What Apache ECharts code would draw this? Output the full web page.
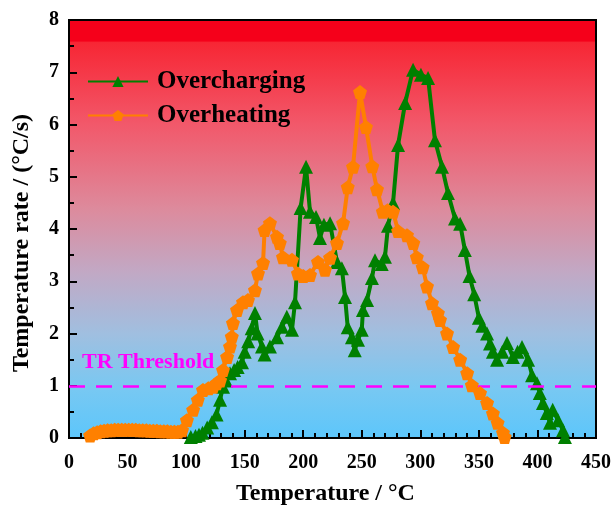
<!DOCTYPE html>
<html>
<head>
<meta charset="utf-8">
<script src="https://cdn.jsdelivr.net/npm/echarts@6/dist/echarts.min.js"></script>
<style>
  html, body { margin: 0; padding: 0; background: #fff; }
  #chart { width: 614px; height: 505px; }
</style>
</head>
<body>
<div id="chart"></div>
<script>
// 过充 Overcharging (triangles)
const chargeTemp = [104,108,111,114,118,122,126,129,131.5,134,137.5,141,144,147.7,150,153,156,158.8,161,164.8,167,171.6,177.6,181.9,186,190.4,193,197.8,202.4,205.8,210.9,214.3,217.7,222.9,228.8,233,235.7,238,241.6,244,246.8,250,251,254.5,258.7,261.3,267,269.8,272.4,276.7,281,287,293.8,300.5,306.6,312.5,318.5,323.6,329.6,334,338,342,346,350,353,357,359.5,362,365.5,370,374,379,383,386.8,392,395.4,399.6,402,404.7,408,410.7,413,417.6,421.8,423.5]
const chargeRate = [0.02,0.04,0.06,0.1,0.2,0.3,0.45,0.73,0.98,1.1,1.24,1.3,1.36,1.45,1.65,1.85,2.1,2.39,2.0,1.75,1.6,1.75,1.93,2.13,2.32,2.07,2.6,4.4,5.19,4.33,4.23,3.83,4.08,4.11,3.37,3.25,2.7,2.12,1.93,1.68,1.88,2.07,2.45,2.64,3.06,3.4,3.33,3.47,4.06,4.5,5.61,6.41,7.05,6.95,6.89,5.7,5.19,4.69,4.2,4.1,3.6,3.1,2.75,2.3,2.15,2.0,1.81,1.65,1.5,1.65,1.82,1.55,1.65,1.74,1.5,1.2,1.05,0.86,0.67,0.48,0.29,0.54,0.34,0.15,0.02]

// 过热 Overheating (pentagons)
const heatTemp = [18,21,24,27,30,33,36,39,42,45,48,51,54,57,60,63,66,69,72,75,78,81,84,87,90,93,96.5,100.7,106,110,114.4,119,123,126,129,131.5,135,137.5,139,140,143.5,148.6,152.8,158.8,161.4,165.7,167,171.6,177.6,180,182.7,190.4,195.5,200,205.8,212.6,218.6,222.9,228.8,234,238,242.5,248.5,253.6,259,263,268,272,276.7,281,288.6,294,297,302,305.7,310,315,316.8,322.8,328,334,340,344,351,357,362,366,370.6,372]
const heatRate = [0.05,0.09,0.11,0.13,0.14,0.15,0.15,0.16,0.16,0.16,0.16,0.16,0.16,0.16,0.15,0.15,0.15,0.14,0.14,0.14,0.13,0.13,0.13,0.12,0.12,0.12,0.15,0.34,0.54,0.73,0.92,0.95,0.98,1.05,1.1,1.3,1.55,1.75,1.94,2.2,2.45,2.6,2.64,2.83,3.15,3.35,3.98,4.11,3.85,3.73,3.46,3.41,3.15,3.1,3.12,3.37,3.22,3.45,3.73,4.11,4.8,5.19,6.62,5.95,5.2,4.76,4.33,4.36,4.33,3.96,3.88,3.73,3.46,3.27,2.9,2.58,2.39,2.26,2.0,1.74,1.5,1.24,1.01,0.86,0.67,0.47,0.29,0.1,0.02]

const trThreshold = 1

const xTicks = [0, 450, 50]
const yTicks = [0, 8, 1]

const serif = 'Liberation Serif'
const pentagon = 'path://M0,-10 L9.51,-3.09 L5.88,8.09 L-5.88,8.09 L-9.51,-3.09 Z'

function pairs(xs, ys) {
  return xs.map((x, i) => [x, ys[i]])
}

const myChart = echarts.init(document.getElementById('chart'), null, { renderer: 'canvas' })

const option = {
  animation: false,
  grid: {
    left: 69, right: 18, top: 20, bottom: 67,
    containLabel: false,
    outerBoundsMode: 'none',
    show: true,
    borderColor: '#000',
    borderWidth: 2,
    backgroundColor: new echarts.graphic.LinearGradient(0, 0, 0, 1, [
      { offset: 0, color: '#f5001a' },
      { offset: 0.052, color: '#f5001a' },
      { offset: 0.056, color: '#f72634' },
      { offset: 0.25, color: '#f2586a' },
      { offset: 0.45, color: '#dd8a9c' },
      { offset: 0.6, color: '#c2a8c4' },
      { offset: 0.75, color: '#a0bfe0' },
      { offset: 0.88, color: '#78c8f2' },
      { offset: 1, color: '#5cc6fb' }
    ])
  },
  legend: {
    orient: 'vertical',
    left: 82,
    top: 64,
    itemWidth: 60,
    itemHeight: 14,
    itemGap: 9,
    textStyle: { fontFamily: serif, fontWeight: 'bold', fontSize: 25, color: '#000', padding: [0, 0, 0, 4] },
    data: ['Overcharging', 'Overheating']
  },
  xAxis: {
    type: 'value',
    min: xTicks[0], max: xTicks[1], interval: xTicks[2],
    name: 'Temperature / °C',
    nameLocation: 'middle',
    nameGap: 44,
    nameTextStyle: { fontFamily: serif, fontWeight: 'bold', fontSize: 24, color: '#000', padding: [0, 14, 0, 0] },
    axisLine: { show: true, lineStyle: { color: '#000', width: 2 } },
    axisTick: { show: true, inside: true, length: 8, lineStyle: { color: '#000', width: 2 } },
    minorTick: { show: true, splitNumber: 5, length: 5, lineStyle: { color: '#000', width: 2 } },
    axisLabel: { fontFamily: serif, fontWeight: 'bold', fontSize: 20, color: '#000', margin: 15 },
    splitLine: { show: false }
  },
  yAxis: {
    type: 'value',
    min: yTicks[0], max: yTicks[1], interval: yTicks[2],
    name: 'Temperature rate / (°C/s)',
    nameLocation: 'middle',
    nameGap: 35,
    nameTextStyle: { fontFamily: serif, fontWeight: 'bold', fontSize: 24, color: '#000', padding: [0, 28, 0, 0] },
    axisLine: { show: true, lineStyle: { color: '#000', width: 2 } },
    axisTick: { show: true, inside: true, length: 8, lineStyle: { color: '#000', width: 2 } },
    minorTick: { show: true, splitNumber: 2, length: 5, lineStyle: { color: '#000', width: 2 } },
    axisLabel: { fontFamily: serif, fontWeight: 'bold', fontSize: 20, color: '#000', margin: 10 },
    splitLine: { show: false }
  },
  series: [
    {
      name: 'Overheating',
      type: 'line',
      data: pairs(heatTemp, heatRate),
      symbol: pentagon,
      symbolSize: 14,
      z: 5,
      itemStyle: { color: '#ff8000' },
      lineStyle: { color: '#ff8000', width: 4 },
      markLine: {
        silent: true,
        symbol: 'none',
        label: { show: false },
        lineStyle: { color: '#ff00ff', type: [16, 11], width: 2.5 },
        data: [{ yAxis: trThreshold }]
      }
    },
    {
      name: 'Overcharging',
      type: 'line',
      data: pairs(chargeTemp, chargeRate),
      symbol: 'triangle',
      symbolSize: 14,
      z: 4,
      itemStyle: { color: '#008000' },
      lineStyle: { color: '#008000', width: 4 }
    }
  ],
  graphic: [{
    type: 'text',
    left: 82,
    top: 351,
    style: {
      text: 'TR Threshold',
      fill: '#ff00ff',
      font: 'bold 22px "Liberation Serif"'
    }
  }]
}

myChart.setOption(option)
</script>
</body>
</html>
